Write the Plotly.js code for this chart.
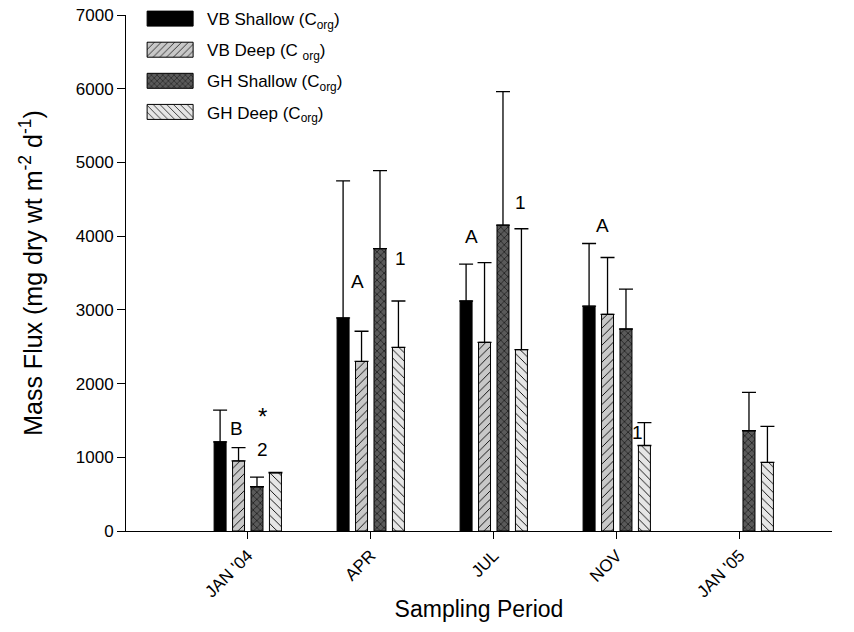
<!DOCTYPE html>
<html><head><meta charset="utf-8">
<script src="https://cdn.plot.ly/plotly-3.0.1.min.js"></script>
<style>
body{margin:0;background:#fff;}
.legend .legendpoints path{transform:none !important; d:path('M53,7.5H7V-7.5H53Z');}
</style>
</head><body>
<div id="chart" style="width:854px;height:632px;"></div>
<script>
const periods = ["JAN '04", "APR", "JUL", "NOV", "JAN '05"];
const vbShallow    = [1210, 2890, 3120, 3050, null];
const vbShallowErr = [430, 1860, 500, 850, null];
const vbDeep       = [950, 2300, 2560, 2940, null];
const vbDeepErr    = [180, 410, 1080, 770, null];
const ghShallow    = [600, 3830, 4150, 2740, 1360];
const ghShallowErr = [130, 1060, 1810, 540, 520];
const ghDeep       = [790, 2490, 2460, 1160, 930];
const ghDeepErr    = [5, 630, 1640, 310, 490];
const seriesNames = ["VB Shallow (C<sub>org</sub>)", "VB Deep (C <sub>org</sub>)", "GH Shallow (C<sub>org</sub>)", "GH Deep (C<sub>org</sub>)"];
const labels = [
  {text: "B", x: -0.09, y: 1384},
  {text: "*", x: 0.12, y: 1560},
  {text: "2", x: 0.12, y: 1100},
  {text: "A", x: 0.89, y: 3378},
  {text: "1", x: 1.24, y: 3700},
  {text: "A", x: 1.82, y: 3990},
  {text: "1", x: 2.22, y: 4450},
  {text: "A", x: 2.88, y: 4150},
  {text: "1", x: 3.17, y: 1330}
];

const font = "Liberation Sans, Arial, sans-serif";
function bar(name, vals, errs, style, grp) {
  return {
    type: "bar", name: name, x: periods, y: vals, legendgroup: grp,
    marker: Object.assign({line: {color: "#000", width: 1}}, style),
    error_y: {type: "data", symmetric: false, array: errs, arrayminus: errs.map(e => e == null ? null : 0),
              color: "#000", thickness: 1.3, width: 7},
    hoverinfo: "x+y"
  };
}
const data = [
  bar(seriesNames[0], vbShallow, vbShallowErr, {color: "#000"}, "a"),
  bar(seriesNames[1], vbDeep, vbDeepErr, {color: "#c8c8c8", pattern: {shape: "/", bgcolor: "#c8c8c8", fgcolor: "#000", size: 6, solidity: 0.15}}, "b"),
  bar(seriesNames[2], ghShallow, ghShallowErr, {color: "#5a5a5a", pattern: {shape: "x", bgcolor: "#5a5a5a", fgcolor: "#000", size: 5, solidity: 0.2}}, "c"),
  bar(seriesNames[3], ghDeep, ghDeepErr, {color: "#e6e6e6", pattern: {shape: "\\", bgcolor: "#e6e6e6", fgcolor: "#000", size: 6, solidity: 0.15}}, "d")
];
const layout = {
  width: 854, height: 632,
  margin: {l: 126, r: 22, t: 15, b: 101, autoexpand: false},
  paper_bgcolor: "#fff", plot_bgcolor: "#fff",
  font: {family: font, size: 17, color: "#000"},
  barmode: "group", bargap: 0.4, bargroupgap: 0.35,
  showlegend: true,
  legend: {x: 0.02, y: 1.027, xanchor: "left", yanchor: "top", bgcolor: "rgba(0,0,0,0)",
           font: {family: font, size: 17}, itemwidth: 57, tracegroupgap: 6, traceorder: "grouped"},
  xaxis: {type: "category", range: [-0.99, 4.75], showline: true, linecolor: "#000", linewidth: 1,
          ticks: "outside", ticklen: 7, tickcolor: "#000", tickangle: -45, showgrid: false, zeroline: false,
          tickfont: {family: font, size: 17}, automargin: false,
          title: {text: "Sampling Period", font: {family: font, size: 23}, standoff: 0}},
  yaxis: {range: [0, 7000], tickvals: [0,1000,2000,3000,4000,5000,6000,7000], showline: true, linecolor: "#000", linewidth: 1,
          ticks: "outside", ticklen: 8, tickcolor: "#000", showgrid: false, zeroline: false,
          tickfont: {family: font, size: 17}, automargin: false,
          title: {text: "Mass Flux (mg dry wt m<sup>-2</sup> d<sup>-1</sup>)", font: {family: font, size: 25}, standoff: 26}},
  annotations: labels.map(l => ({text: l.text, x: l.x, y: l.y, xref: "x", yref: "y", showarrow: false,
          font: {family: font, size: l.text === "*" ? 24 : 19, color: "#000"}}))
};
Plotly.newPlot("chart", data, layout, {displayModeBar: false, staticPlot: true});
</script>
</body></html>
